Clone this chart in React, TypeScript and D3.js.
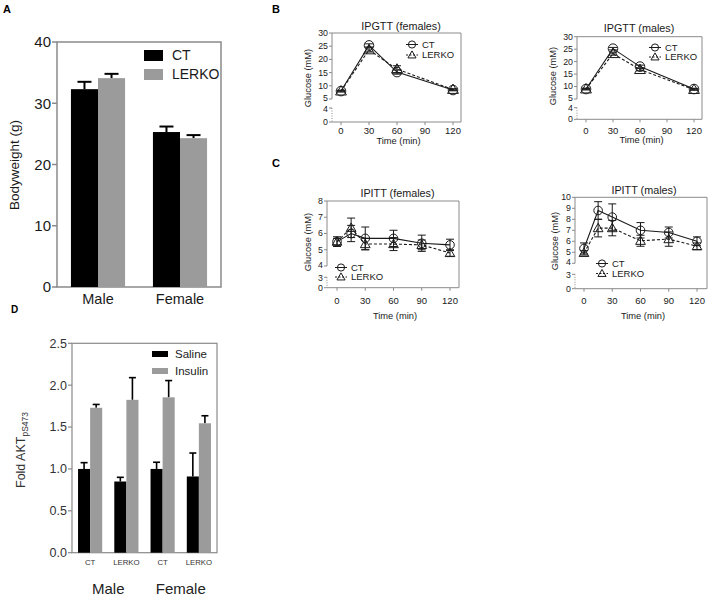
import React from "react";
import * as d3 from "d3";

const FONT = "'Liberation Sans', Arial, Helvetica, sans-serif";

// ---------- Panel A: bodyweight ----------
const bwGroups = ["Male", "Female"];
const bwSeries = ["CT", "LERKO"];
const bwCT = [32.3, 25.3];
const bwCTErr = [1.2, 0.9];
const bwLERKO = [34.1, 24.3];
const bwLERKOErr = [0.7, 0.5];
const bwTicks = [0, 10, 20, 30, 40];

// ---------- Panel B: IPGTT ----------
const gttTimes = [0, 30, 60, 120];
const gttTicksX = [0, 30, 60, 90, 120];
const gttTicksY = [0, 4, 5, 10, 15, 20, 25, 30];
const gttFemCT = [8.0, 25.3, 15.2, 8.4];
const gttFemCTErr = [0.3, 0.6, 0.8, 0.3];
const gttFemLERKO = [8.0, 23.6, 16.3, 8.6];
const gttFemLERKOErr = [0.3, 0.8, 1.3, 0.3];
const gttMaleCT = [9.0, 25.2, 18.0, 9.0];
const gttMaleCTErr = [0.3, 0.5, 0.6, 0.3];
const gttMaleLERKO = [9.0, 23.2, 16.8, 8.8];
const gttMaleLERKOErr = [0.3, 0.6, 0.5, 0.3];

// ---------- Panel C: IPITT ----------
const ittTimes = [0, 15, 30, 60, 90, 120];
const ittTicksX = [0, 30, 60, 90, 120];
const ittFemTicksY = [0, 3, 4, 5, 6, 7, 8];
const ittMaleTicksY = [0, 3, 4, 5, 6, 7, 8, 9, 10];
const ittFemCT = [5.5, 6.0, 5.7, 5.7, 5.4, 5.3];
const ittFemCTErr = [0.3, 0.5, 0.7, 0.5, 0.5, 0.35];
const ittFemLERKO = [5.5, 6.35, 5.35, 5.35, 5.3, 4.8];
const ittFemLERKOErr = [0.2, 0.6, 0.35, 0.4, 0.3, 0.2];
const ittMaleCT = [5.35, 8.8, 8.2, 7.0, 6.8, 6.0];
const ittMaleCTErr = [0.5, 0.8, 1.2, 0.7, 0.5, 0.4];
const ittMaleLERKO = [4.95, 7.2, 7.2, 6.05, 6.2, 5.55];
const ittMaleLERKOErr = [0.2, 0.8, 0.7, 0.5, 0.65, 0.3];

// ---------- Panel D: AKT ----------
const aktIds = ["M-CT", "M-LERKO", "F-CT", "F-LERKO"];
const aktLabels = ["CT", "LERKO", "CT", "LERKO"];
const aktSexes = ["Male", "Female"];
const aktSeries = ["Saline", "Insulin"];
const aktSaline = [1.0, 0.85, 1.0, 0.91];
const aktSalineErr = [0.075, 0.05, 0.08, 0.28];
const aktInsulin = [1.73, 1.825, 1.855, 1.545];
const aktInsulinErr = [0.04, 0.265, 0.2, 0.09];
const aktTicks = [0, 0.5, 1.0, 1.5, 2.0, 2.5];

const INK = "#1a1a1a";
const FRAME = "#8a8a8a";
const GRAY = "#9b9b9b";

function PanelA() {
  const y = d3.scaleLinear().domain([0, 40]).range([287, 42]);
  const xg = d3.scaleBand<string>().domain(bwGroups).range([57, 221]).paddingInner(0.34).paddingOuter(0.17);
  const xs = d3.scaleBand<string>().domain(bwSeries).range([0, xg.bandwidth()]);
  const vals = [bwCT, bwLERKO];
  const errs = [bwCTErr, bwLERKOErr];
  const cols = ["#000", GRAY];
  return (
    <g fontFamily={FONT}>
      <text x={3} y={13} fontSize={11} fontWeight="bold">A</text>
      <rect x={57} y={42} width={164} height={245} fill="none" stroke={FRAME} strokeWidth={1.5} />
      {bwTicks.map((t) => (
        <g key={t}>
          <line x1={52} x2={57} y1={y(t)} y2={y(t)} stroke={FRAME} strokeWidth={1.5} />
          <text x={51} y={y(t)} dy="0.35em" textAnchor="end" fontSize={15} fill={INK}>{t}</text>
        </g>
      ))}
      {bwGroups.map((g, gi) => (
        <g key={g}>
          {bwSeries.map((s, si) => {
            const bx = (xg(g) as number) + (xs(s) as number);
            const w = xs.bandwidth();
            const v = vals[si][gi];
            const e = errs[si][gi];
            const cx = bx + w / 2;
            return (
              <g key={s}>
                <line x1={cx} x2={cx} y1={y(v)} y2={y(v + e)} stroke="#000" strokeWidth={2} />
                <line x1={cx - 7} x2={cx + 7} y1={y(v + e)} y2={y(v + e)} stroke="#000" strokeWidth={2} />
                <rect x={bx} y={y(v)} width={w} height={y(0) - y(v)} fill={cols[si]} />
              </g>
            );
          })}
          <text x={(xg(g) as number) + xg.bandwidth() / 2} y={304} textAnchor="middle" fontSize={14.5} fill={INK}>{g}</text>
        </g>
      ))}
      {bwSeries.map((s, si) => (
        <g key={s}>
          <rect x={144} y={50 + si * 19} width={19} height={11} fill={cols[si]} />
          <text x={172} y={55.5 + si * 19} dy="0.35em" fontSize={14} fill={INK}>{s}</text>
        </g>
      ))}
      <text transform="translate(19,165) rotate(-90)" textAnchor="middle" fontSize={13.5} fill={INK}>Bodyweight (g)</text>
    </g>
  );
}

type LineCfg = {
  title: string;
  titleX: number;
  titleY: number;
  xr: [number, number];
  yDomain: number[];
  yRange: number[];
  box: { l: number; r: number };
  yTicks: number[];
  xTicks: number[];
  times: number[];
  ct: number[];
  ctErr: number[];
  lk: number[];
  lkErr: number[];
  legX: number;
  legY: number;
  legGap: number;
  ylabX: number;
  ylabY: number;
  xlabY: number;
  xtickY: number;
  mr: number;
};

function LinePanel({ c }: { c: LineCfg }) {
  const x = d3.scaleLinear().domain([0, 120]).range(c.xr);
  const y = d3.scaleLinear().domain(c.yDomain).range(c.yRange);
  const n = c.yDomain.length;
  const top = y(c.yDomain[n - 1]);
  const bot = y(0);
  const lowTop = y(c.yDomain[1]);
  const upBot = y(c.yDomain[2]);
  const line = d3.line<number>().x((_, i) => x(c.times[i])).y((d) => y(d));
  const tri = d3.symbol(d3.symbolTriangle, c.mr * c.mr * 2.2)() as string;
  const triSmall = d3.symbol(d3.symbolTriangle, 3.6 * 3.6 * 2.2)() as string;
  const cx = (xv: number) => x(xv);
  const labelShift = (t: number) => (t === c.yDomain[1] ? 0.8 : t === c.yDomain[2] ? -0.8 : 0);
  const errBars = (vals: number[], errs: number[], key: string) =>
    vals.map((v, i) => {
      const px = cx(c.times[i]);
      const y1 = y(v + errs[i]);
      const y2 = y(v - errs[i]);
      return (
        <g key={key + i}>
          <line x1={px} x2={px} y1={y1} y2={y2} stroke={INK} strokeWidth={1} />
          <line x1={px - 4} x2={px + 4} y1={y1} y2={y1} stroke={INK} strokeWidth={1} />
          <line x1={px - 4} x2={px + 4} y1={y2} y2={y2} stroke={INK} strokeWidth={1} />
        </g>
      );
    });
  return (
    <g fontFamily={FONT} fill={INK}>
      <text x={c.titleX} y={c.titleY} textAnchor="middle" fontSize={10.8}>{c.title}</text>
      {/* frame */}
      <line x1={c.box.l} x2={c.box.r} y1={top} y2={top} stroke={FRAME} />
      <line x1={c.box.r} x2={c.box.r} y1={top} y2={bot} stroke={FRAME} />
      <line x1={c.box.l} x2={c.box.r} y1={bot} y2={bot} stroke={FRAME} />
      <line x1={c.box.l} x2={c.box.l} y1={top} y2={upBot} stroke={FRAME} />
      <line x1={c.box.l} x2={c.box.l} y1={lowTop} y2={bot} stroke={FRAME} strokeDasharray="1,1.5" />
      {c.yTicks.map((t) => (
        <g key={t}>
          <line x1={c.box.l - 3} x2={c.box.l} y1={y(t)} y2={y(t)} stroke={FRAME} />
          <text x={c.box.l - 4} y={y(t) + labelShift(t)} dy="0.33em" textAnchor="end" fontSize={8.8}>{t}</text>
        </g>
      ))}
      {c.xTicks.map((t) => (
        <g key={t}>
          <line x1={x(t)} x2={x(t)} y1={bot} y2={bot + 3} stroke={FRAME} />
          <text x={x(t)} y={c.xtickY} textAnchor="middle" fontSize={9.5}>{t}</text>
        </g>
      ))}
      <text x={(c.box.l + c.box.r) / 2 + 2} y={c.xlabY} textAnchor="middle" fontSize={9.3}>Time (min)</text>
      <text transform={`translate(${c.ylabX},${c.ylabY}) rotate(-90)`} textAnchor="middle" fontSize={9.3}>Glucose (mM)</text>
      {/* series */}
      <path d={line(c.lk) as string} fill="none" stroke={INK} strokeWidth={1.1} strokeDasharray="3,2" />
      <path d={line(c.ct) as string} fill="none" stroke={INK} strokeWidth={1.1} />
      {errBars(c.lk, c.lkErr, "l")}
      {errBars(c.ct, c.ctErr, "c")}
      {c.lk.map((v, i) => (
        <path key={"lt" + i} d={tri} transform={`translate(${cx(c.times[i])},${y(v) + 0.8})`} fill="none" stroke={INK} strokeWidth={1} />
      ))}
      {c.ct.map((v, i) => (
        <circle key={"cc" + i} cx={cx(c.times[i])} cy={y(v)} r={c.mr} fill="none" stroke={INK} strokeWidth={1} />
      ))}
      {/* legend */}
      <circle cx={c.legX} cy={c.legY} r={3.6} fill="white" stroke={INK} />
      <line x1={c.legX - 6} x2={c.legX + 6} y1={c.legY} y2={c.legY} stroke={INK} />
      <text x={c.legX + 10} y={c.legY} dy="0.35em" fontSize={9.5}>CT</text>
      <line x1={c.legX - 6} x2={c.legX + 6} y1={c.legY + c.legGap} y2={c.legY + c.legGap} stroke={INK} strokeDasharray="2,1.5" />
      <path d={triSmall} transform={`translate(${c.legX},${c.legY + c.legGap + 0.6})`} fill="none" stroke={INK} />
      <text x={c.legX + 10} y={c.legY + c.legGap} dy="0.35em" fontSize={9.5}>LERKO</text>
    </g>
  );
}

const gttFemCfg: LineCfg = {
  title: "IPGTT (females)", titleX: 401, titleY: 30,
  xr: [341, 453], yDomain: [0, 4, 5, 30], yRange: [122, 108, 99, 33],
  box: { l: 332, r: 461 }, yTicks: gttTicksY, xTicks: gttTicksX, times: gttTimes,
  ct: gttFemCT, ctErr: gttFemCTErr, lk: gttFemLERKO, lkErr: gttFemLERKOErr,
  legX: 412, legY: 44.5, legGap: 10.5, ylabX: 311, ylabY: 78, xlabY: 144, xtickY: 134, mr: 4.8,
};
const gttMaleCfg: LineCfg = {
  title: "IPGTT (males)", titleX: 639, titleY: 32,
  xr: [586, 694], yDomain: [0, 4, 5, 30], yRange: [119.3, 107.7, 99, 36.7],
  box: { l: 577, r: 702 }, yTicks: gttTicksY, xTicks: gttTicksX, times: gttTimes,
  ct: gttMaleCT, ctErr: gttMaleCTErr, lk: gttMaleLERKO, lkErr: gttMaleLERKOErr,
  legX: 655, legY: 47.5, legGap: 9.5, ylabX: 556, ylabY: 76, xlabY: 143, xtickY: 134, mr: 4.8,
};
const ittFemCfg: LineCfg = {
  title: "IPITT (females)", titleX: 397.5, titleY: 197,
  xr: [337, 450], yDomain: [0, 3, 4, 8], yRange: [287.7, 277.3, 266, 201],
  box: { l: 327, r: 459 }, yTicks: ittFemTicksY, xTicks: ittTicksX, times: ittTimes,
  ct: ittFemCT, ctErr: ittFemCTErr, lk: ittFemLERKO, lkErr: ittFemLERKOErr,
  legX: 341, legY: 267.5, legGap: 9.5, ylabX: 311, ylabY: 242, xlabY: 319, xtickY: 304, mr: 4.3,
};
const ittMaleCfg: LineCfg = {
  title: "IPITT (males)", titleX: 644, titleY: 194,
  xr: [584, 697], yDomain: [0, 3, 4, 10], yRange: [288.7, 274.3, 263.3, 197.3],
  box: { l: 575, r: 707 }, yTicks: ittMaleTicksY, xTicks: ittTicksX, times: ittTimes,
  ct: ittMaleCT, ctErr: ittMaleCTErr, lk: ittMaleLERKO, lkErr: ittMaleLERKOErr,
  legX: 602, legY: 263.5, legGap: 10, ylabX: 558, ylabY: 241, xlabY: 319, xtickY: 304, mr: 4.3,
};

function PanelD() {
  const y = d3.scaleLinear().domain([0, 2.5]).range([552.7, 343.3]);
  const xg = d3.scaleBand<string>().domain(aktIds).range([72, 217]).paddingInner(1 / 3).paddingOuter(1 / 6);
  const xs = d3.scaleBand<string>().domain(aktSeries).range([0, xg.bandwidth()]);
  const vals = [aktSaline, aktInsulin];
  const errs = [aktSalineErr, aktInsulinErr];
  const cols = ["#000", GRAY];
  return (
    <g fontFamily={FONT}>
      <text x={11} y={313} fontSize={10} fontWeight="bold">D</text>
      <rect x={72} y={343.3} width={145} height={209.4} fill="none" stroke={FRAME} strokeWidth={1.2} />
      {aktTicks.map((t) => (
        <g key={t}>
          <line x1={68} x2={72} y1={y(t)} y2={y(t)} stroke={FRAME} strokeWidth={1.2} />
          <text x={67} y={y(t)} dy="0.35em" textAnchor="end" fontSize={12.5} fill="#333">{t.toFixed(1)}</text>
        </g>
      ))}
      {aktIds.map((id, gi) => (
        <g key={id}>
          {aktSeries.map((s, si) => {
            const bx = (xg(id) as number) + (xs(s) as number);
            const w = xs.bandwidth();
            const v = vals[si][gi];
            const e = errs[si][gi];
            const cx = bx + w / 2;
            return (
              <g key={s}>
                <line x1={cx} x2={cx} y1={y(v)} y2={y(v + e)} stroke="#000" strokeWidth={1.6} />
                <line x1={cx - 3.5} x2={cx + 3.5} y1={y(v + e)} y2={y(v + e)} stroke="#000" strokeWidth={1.6} />
                <rect x={bx} y={y(v)} width={w} height={y(0) - y(v)} fill={cols[si]} />
              </g>
            );
          })}
          <text x={(xg(id) as number) + xg.bandwidth() / 2} y={565} textAnchor="middle" fontSize={7.8} fill="#333">{aktLabels[gi]}</text>
        </g>
      ))}
      {aktSexes.map((s, i) => {
        const a = xg(aktIds[i * 2]) as number;
        const b = (xg(aktIds[i * 2 + 1]) as number) + xg.bandwidth();
        return (
          <text key={s} x={(a + b) / 2} y={594} textAnchor="middle" fontSize={15} fill="#222">{s}</text>
        );
      })}
      {aktSeries.map((s, si) => (
        <g key={s}>
          <rect x={152} y={351 + si * 17} width={16} height={6} fill={cols[si]} />
          <text x={175} y={354 + si * 17} dy="0.35em" fontSize={11.5} fill="#222">{s}</text>
        </g>
      ))}
      <text transform="translate(25,450) rotate(-90)" textAnchor="middle" fontSize={12.5} fill="#333">
        Fold AKT<tspan fontSize={8.5} dy={3}>pS473</tspan>
      </text>
    </g>
  );
}

export default function App() {
  return (
    <svg
      width={712}
      height={598}
      style={{ position: "absolute", left: 0, top: 0, background: "#fff" }}
    >
      <rect width={712} height={598} fill="#fff" />
      <PanelA />
      <text x={272} y={13} fontFamily={FONT} fontSize={11} fontWeight="bold">B</text>
      <text x={272} y={167} fontFamily={FONT} fontSize={11} fontWeight="bold">C</text>
      <LinePanel c={gttFemCfg} />
      <LinePanel c={gttMaleCfg} />
      <LinePanel c={ittFemCfg} />
      <LinePanel c={ittMaleCfg} />
      <PanelD />
    </svg>
  );
}
